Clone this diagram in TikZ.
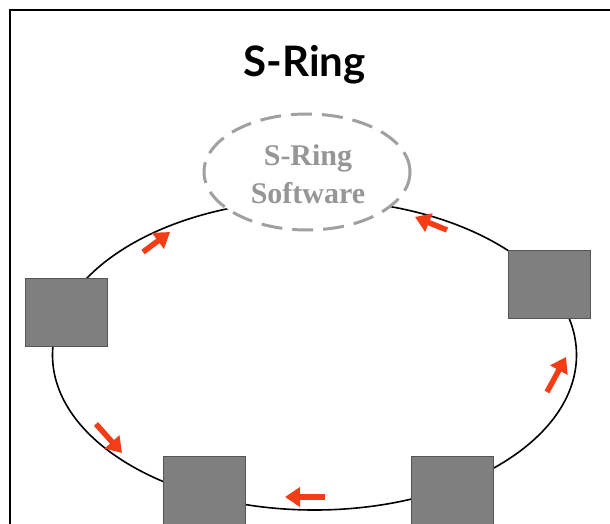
\documentclass[tikz,border=0pt]{standalone}
\usepackage{fontspec}
\newfontfamily\titlefont{Lato}
\newfontfamily\swfont{Liberation Serif}
\usetikzlibrary{arrows.meta,shapes.geometric}
\definecolor{flowred}{RGB}{244,60,22}
\definecolor{boxgray}{RGB}{127,127,127}
\definecolor{boxedge}{RGB}{85,85,85}
\definecolor{swgray}{RGB}{160,160,160}
\definecolor{swtextgray}{RGB}{150,150,150}
\begin{document}
\begin{tikzpicture}[x=1pt,y=-1pt,
  frame/.style={line width=2pt,draw=black},
  ring/.style={ellipse,draw=black,line width=1.6pt,inner sep=0pt,minimum width=524pt,minimum height=310pt},
  swnode/.style={ellipse,draw=swgray,fill=white,line width=3pt,dash pattern=on 21pt off 10pt,inner sep=0pt,minimum width=206pt,minimum height=116pt},
  swtext/.style={text=swtextgray,font=\swfont\bfseries\fontsize{30}{36}\selectfont,anchor=base,inner sep=0pt},
  titletext/.style={font=\titlefont\bfseries\fontsize{42}{50}\selectfont,anchor=base,inner sep=0pt},
  station/.style={rectangle,fill=boxgray,draw=boxedge,line width=0.8pt,minimum width=82pt,minimum height=68pt,inner sep=0pt},
  flow/.style={draw=flowred,line width=5.5pt,-{Triangle[length=15pt,width=19pt]}}
]
\useasboundingbox (0,0) rectangle (610,524);
\clip (0,0) rectangle (610,524);
\fill[white] (0,0) rectangle (610,524);
\draw[frame] (10,10) rectangle (640,560);
\node[titletext] (title) at (304.5,77) {S-Ring};
\node[ring] (ring) at (314.5,355) {};
\node[swnode] (sw) at (307,172) {};
\node[swtext] (sw1) at (308,165) {S-Ring};
\node[swtext] (sw2) at (308,203) {Software};
\node[station] (b1) at (66,312) {};
\node[station] (b2) at (549,284.5) {};
\node[station] (b3) at (204,490) {};
\node[station] (b4) at (452.5,490) {};
\coordinate (a1s) at (143,252); \coordinate (a1e) at (170,232);
\coordinate (a2s) at (447,230); \coordinate (a2e) at (415,217);
\coordinate (a3s) at (547,392); \coordinate (a3e) at (566,357);
\coordinate (a4s) at (325,497); \coordinate (a4e) at (285,497);
\coordinate (a5s) at (96,424);  \coordinate (a5e) at (122,453);
\draw[flow] (a1s) -- (a1e);
\draw[flow] (a2s) -- (a2e);
\draw[flow] (a3s) -- (a3e);
\draw[flow] (a4s) -- (a4e);
\draw[flow] (a5s) -- (a5e);
\end{tikzpicture}
\end{document}
